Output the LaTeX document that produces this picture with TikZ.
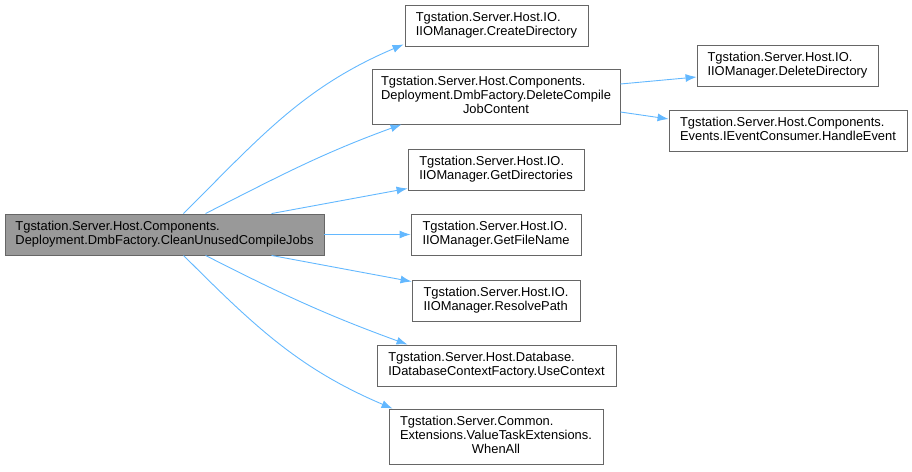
\documentclass[tikz,border=0pt]{standalone}
\usepackage{fontspec}
\setmainfont{Liberation Sans}
\usetikzlibrary{calc,arrows.meta}
\definecolor{edgeblue}{HTML}{63B8FF}
\definecolor{boxline}{HTML}{666666}
\definecolor{mainfill}{HTML}{999999}
\tikzset{
  fnbox/.style={draw=boxline, line width=0.9pt, fill=white, inner sep=0pt,
    font=\fontsize{12.9}{14.2}\selectfont, align=left},
  mainbox/.style={fnbox, fill=mainfill},
  edge/.style={draw=edgeblue, line width=0.9pt, -{Latex[length=11pt,width=8pt]}}
}
\newcommand{\lines}[1]{\begin{tabular}{@{}l@{}}#1\end{tabular}}
\newcommand{\lastc}[1]{\multicolumn{1}{@{}c@{}}{#1}}
\begin{document}
\begin{tikzpicture}[x=1pt,y=-1pt]
\useasboundingbox (0,0) rectangle (912,471);
\setlength{\tabcolsep}{0pt}
\def\arraystretch{1}
\node[mainbox, minimum width=319pt, minimum height=41pt] (main) at (164.5,234.5)
  {\lines{Tgstation.Server.Host.Components.\\Deployment.DmbFactory.CleanUnusedCompileJobs}};
\node[fnbox, minimum width=183pt, minimum height=41pt] (createdir) at (496.5,25.5)
  {\lines{Tgstation.Server.Host.IO.\\IIOManager.CreateDirectory}};
\node[fnbox, minimum width=248pt, minimum height=55pt] (delcompile) at (496,96.5)
  {\lines{Tgstation.Server.Host.Components.\\Deployment.DmbFactory.DeleteCompile\\\lastc{JobContent}}};
\node[fnbox, minimum width=181pt, minimum height=41pt] (deldir) at (787.5,65.5)
  {\lines{Tgstation.Server.Host.IO.\\IIOManager.DeleteDirectory}};
\node[fnbox, minimum width=238pt, minimum height=41pt] (handle) at (788,130.5)
  {\lines{Tgstation.Server.Host.Components.\\Events.IEventConsumer.HandleEvent}};
\node[fnbox, minimum width=176pt, minimum height=41pt] (getdirs) at (496,169.5)
  {\lines{Tgstation.Server.Host.IO.\\IIOManager.GetDirectories}};
\node[fnbox, minimum width=170pt, minimum height=41pt] (getfile) at (496,234.5)
  {\lines{Tgstation.Server.Host.IO.\\IIOManager.GetFileName}};
\node[fnbox, minimum width=168pt, minimum height=41pt] (resolve) at (496,300.5)
  {\lines{Tgstation.Server.Host.IO.\\IIOManager.ResolvePath}};
\node[fnbox, minimum width=239pt, minimum height=41pt] (usecontext) at (496.5,365.5)
  {\lines{Tgstation.Server.Host.Database.\\IDatabaseContextFactory.UseContext}};
\node[fnbox, minimum width=214pt, minimum height=55pt] (whenall) at (496,436.5)
  {\lines{Tgstation.Server.Common.\\Extensions.ValueTaskExtensions.\\\lastc{WhenAll}}};

\draw[edge] ($(main.north west)+(179,0)$) to[out=45,in=203] ($(createdir.south west)+(-1,-2)$);
\draw[edge] ($(main.north west)+(201,0)$) to[out=27,in=200] ($(delcompile.south west)+(30,0)$);
\draw[edge] ($(main.north west)+(267,0)$) -- ($(getdirs.south west)+(0,-2)$);
\draw[edge] (main.east) -- (getfile.west);
\draw[edge] ($(main.south west)+(267,0)$) -- ($(resolve.north west)+(0,2)$);
\draw[edge] ($(main.south west)+(201,0)$) to[out=-27,in=160] ($(usecontext.north west)+(31,0)$);
\draw[edge] ($(main.south west)+(179,0)$) to[out=-45,in=157] ($(whenall.north west)+(4,0)$);
\draw[edge] ($(delcompile.east)+(0,-12.5)$) -- ($(deldir.west)+(0,11.5)$);
\draw[edge] ($(delcompile.east)+(0,15.5)$) -- ($(handle.west)+(0,-11.5)$);
\end{tikzpicture}
\end{document}
